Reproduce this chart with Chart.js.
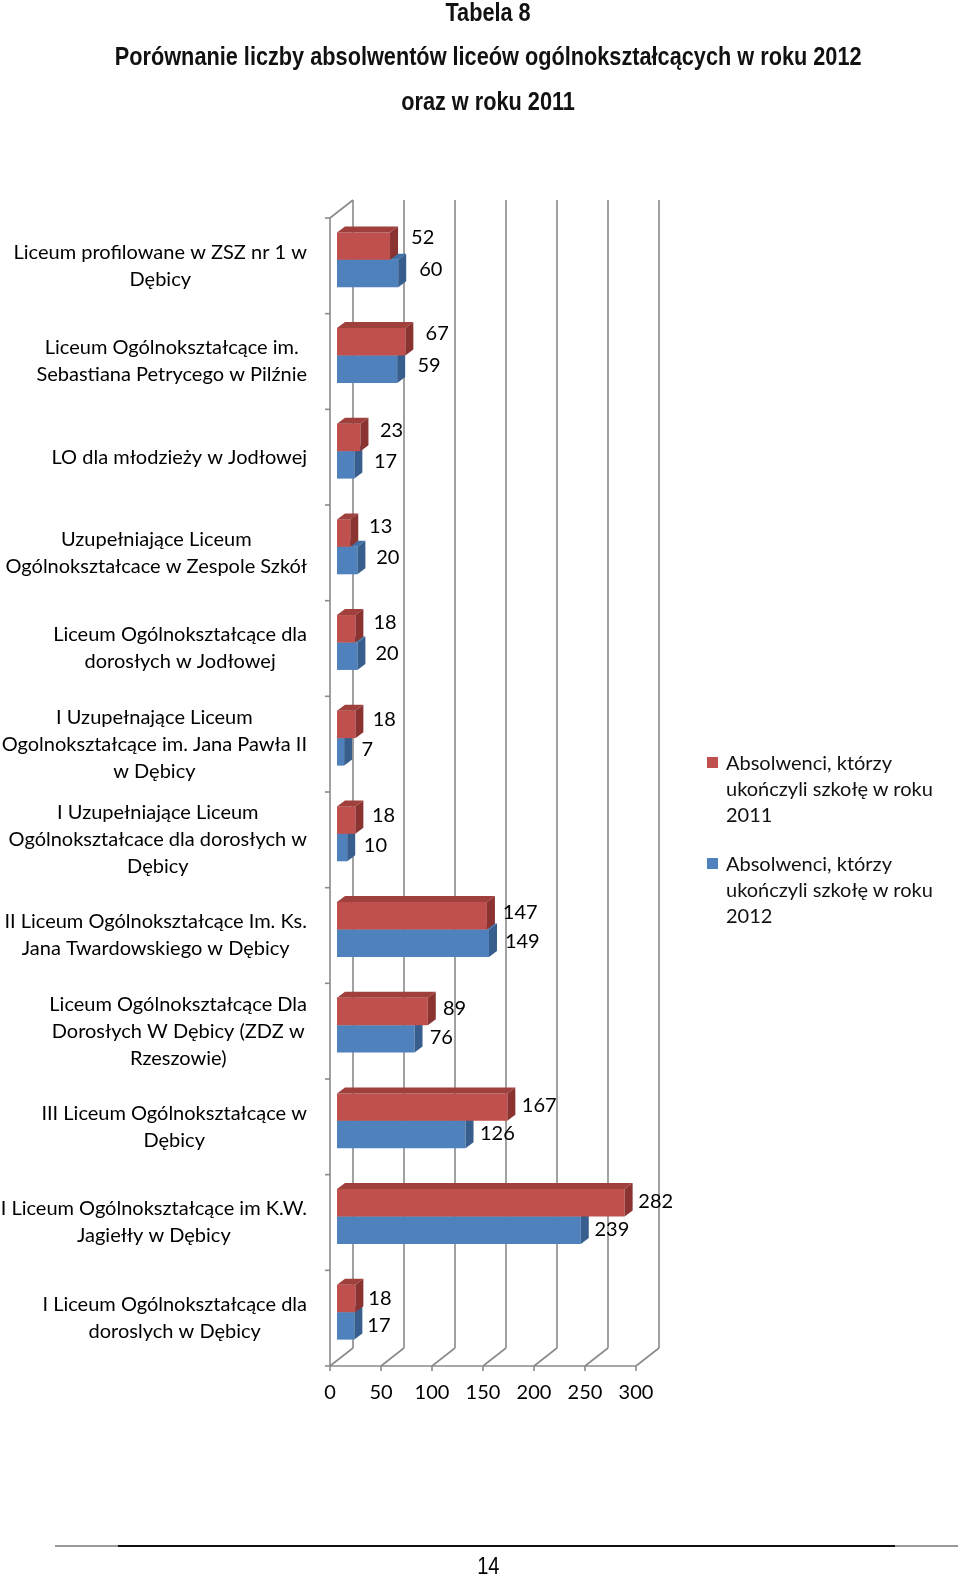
<!DOCTYPE html>
<html lang="pl">
<head>
<meta charset="utf-8">
<title>Tabela 8</title>
<script src="https://cdn.jsdelivr.net/npm/chart.js@4.4.1/dist/chart.umd.min.js"></script>
<style>
    body { margin: 0; background: #fff; }
    .page { position: relative; width: 960px; height: 1577px; overflow: hidden; }
    .page canvas { position: absolute; left: 0; top: 0; }
    .title {
        position: absolute; left: 8px; width: 960px; text-align: center;
        font-family: 'Liberation Sans', Arial, sans-serif;
        font-weight: bold; font-size: 26px; line-height: 30px; color: #111;
    }
    .title span, .pageno span { display: inline-block; transform: scaleX(0.835); transform-origin: center; white-space: nowrap; }
    .legend { position: absolute; left: 707px; font-family: Lato, 'Open Sans', sans-serif; font-size: 20px; line-height: 26px; color: #111; }
    .legend .sw { position: absolute; left: 0; top: 8px; width: 11px; height: 11px; }
    .legend .lt { margin-left: 19px; white-space: nowrap; }
    .rule {
        position: absolute; left: 55px; top: 1545px; width: 903px; height: 2px;
        background: linear-gradient(to right, #999 0, #999 7%, #111 7%, #111 93%, #999 93%, #999 100%);
    }
    .pageno {
        position: absolute; left: 8px; width: 960px; top: 1552px; text-align: center;
        font-family: 'Liberation Sans', Arial, sans-serif; font-size: 24px; line-height: 28px;
    }
</style>
</head>
<body>
<div class="page">
    <canvas id="chart" width="960" height="1577"></canvas>
    <div class="title" style="top:-3px"><span>Tabela 8</span></div>
    <div class="title" style="top:41px"><span>Porównanie liczby absolwentów liceów ogólnokształcących w roku 2012</span></div>
    <div class="title" style="top:86px"><span>oraz w roku 2011</span></div>

    <div class="legend" style="top:749px">
        <span class="sw" style="background:#C0504D"></span>
        <div class="lt">Absolwenci, którzy<br>ukończyli szkołę w roku<br>2011</div>
    </div>
    <div class="legend" style="top:850px">
        <span class="sw" style="background:#4F81BD"></span>
        <div class="lt">Absolwenci, którzy<br>ukończyli szkołę w roku<br>2012</div>
    </div>

    <div class="rule"></div>
    <div class="pageno"><span>14</span></div>
</div>

<script>
// ==================== DATA ====================
const categories = [
    ['Liceum profilowane w ZSZ nr 1 w', 'Dębicy'],
    ['Liceum Ogólnokształcące im.', 'Sebastiana Petrycego w Pilźnie'],
    ['LO dla młodzieży w Jodłowej'],
    ['Uzupełniające Liceum', 'Ogólnokształcace w Zespole Szkół'],
    ['Liceum Ogólnokształcące dla', 'dorosłych w Jodłowej'],
    ['I Uzupełnające Liceum', 'Ogolnokształcące im. Jana Pawła II', 'w Dębicy'],
    ['I Uzupełniające Liceum', 'Ogólnokształcace dla dorosłych w', 'Dębicy'],
    ['II Liceum Ogólnokształcące Im. Ks.', 'Jana Twardowskiego w Dębicy'],
    ['Liceum Ogólnokształcące Dla', 'Dorosłych W Dębicy (ZDZ w', 'Rzeszowie)'],
    ['III Liceum Ogólnokształcące w', 'Dębicy'],
    ['I Liceum Ogólnokształcące im K.W.', 'Jagiełły w Dębicy'],
    ['I Liceum Ogólnokształcące dla', 'doroslych w Dębicy']
];
const graduates2011 = [52, 67, 23, 13, 18, 18, 18, 147, 89, 167, 282, 18];
const graduates2012 = [60, 59, 17, 20, 20, 7, 10, 149, 76, 126, 239, 17];
const xTicks = [0, 50, 100, 150, 200, 250, 300];
const seriesNames = ['Absolwenci, którzy ukończyli szkołę w roku 2011', 'Absolwenci, którzy ukończyli szkołę w roku 2012'];

// ==================== 3D LOOK ====================
const FONT = '20px Lato, "Open Sans", sans-serif';
const FRONT = { dx: -7, dy: 6 };    // front plane (axis, labels) relative to bars
const BACK = { dx: 16, dy: -12 };   // back wall relative to bars
const BAR_DEPTH = { dx: 8, dy: 6 };
const LABEL_RIGHT = 307;

function poly(ctx, pts) {
    ctx.beginPath();
    ctx.moveTo(pts[0][0], pts[0][1]);
    pts.slice(1).forEach(p => ctx.lineTo(p[0], p[1]));
    ctx.closePath();
    ctx.fill();
}

function seg(ctx, x1, y1, x2, y2) {
    ctx.beginPath();
    ctx.moveTo(x1, y1);
    ctx.lineTo(x2, y2);
    ctx.stroke();
}

const wallsPlugin = {
    id: 'walls',
    beforeDatasetsDraw(chart) {
        const { ctx, chartArea: a, scales: { x, y } } = chart;
        const frontY = a.bottom + FRONT.dy;
        const backTop = a.top + BACK.dy;
        const backBottom = a.bottom + BACK.dy;
        const x0 = x.getPixelForValue(0);
        const x1 = x.getPixelForValue(xTicks[xTicks.length - 1]);

        ctx.save();
        ctx.strokeStyle = '#8a8a8a';
        ctx.lineWidth = 1.6;

        // back wall grid + floor diagonals + x ticks
        ctx.fillStyle = '#000';
        ctx.font = FONT;
        ctx.textAlign = 'center';
        ctx.textBaseline = 'middle';
        xTicks.forEach(v => {
            const px = x.getPixelForValue(v);
            seg(ctx, px + BACK.dx, backTop, px + BACK.dx, backBottom);
            seg(ctx, px + FRONT.dx, frontY, px + BACK.dx, backBottom);
            seg(ctx, px + FRONT.dx, frontY, px + FRONT.dx, frontY + 5);
            ctx.fillText(String(v), px + FRONT.dx, frontY + 27);
        });

        // front floor edge and left wall edge
        seg(ctx, x0 + FRONT.dx, frontY, x1 + FRONT.dx, frontY);
        seg(ctx, x0 + FRONT.dx, a.top + FRONT.dy, x0 + FRONT.dx, frontY);
        seg(ctx, x0 + FRONT.dx, a.top + FRONT.dy, x0 + BACK.dx, backTop);

        // category ticks and labels
        const step = y.getPixelForValue(1) - y.getPixelForValue(0);
        for (let i = 0; i <= categories.length; i++) {
            const by = y.getPixelForValue(i) - step / 2 + FRONT.dy;
            seg(ctx, x0 + FRONT.dx - 5, by, x0 + FRONT.dx, by);
        }
        const lineH = 27;
        categories.forEach((lines, i) => {
            const cy = y.getPixelForValue(i) + FRONT.dy;
            const widest = Math.max(...lines.map(l => ctx.measureText(l).width));
            const cx = LABEL_RIGHT - widest / 2;
            lines.forEach((l, j) => {
                ctx.fillText(l, cx, cy + (j - (lines.length - 1) / 2) * lineH);
            });
        });
        ctx.restore();
    },
    afterDatasetDraw(chart, args) {
        const ds = chart.data.datasets[args.index];
        const ctx = chart.ctx;
        ctx.save();
        args.meta.data.forEach(bar => {
            const { x, y, base, height } = bar.getProps(['x', 'y', 'base', 'height'], true);
            const top = y - height / 2, bottom = y + height / 2;
            ctx.fillStyle = ds.topColor;
            poly(ctx, [[base, top], [x, top], [x + BAR_DEPTH.dx, top - BAR_DEPTH.dy], [base + BAR_DEPTH.dx, top - BAR_DEPTH.dy]]);
            ctx.fillStyle = ds.sideColor;
            poly(ctx, [[x, top], [x + BAR_DEPTH.dx, top - BAR_DEPTH.dy], [x + BAR_DEPTH.dx, bottom - BAR_DEPTH.dy], [x, bottom]]);
        });
        ctx.restore();
    },
    afterDatasetsDraw(chart) {
        const ctx = chart.ctx;
        const n = categories.length - 1;
        ctx.save();
        ctx.fillStyle = '#000';
        ctx.font = FONT;
        ctx.textAlign = 'left';
        ctx.textBaseline = 'middle';
        chart.data.datasets.forEach((ds, di) => {
            chart.getDatasetMeta(di).data.forEach((bar, i) => {
                const t = 1 - i / n;
                const offX = 13 + 8 * t;
                const offY = -(di === 0 ? 9 : 4) * t;
                ctx.fillText(String(ds.data[i]), bar.x + offX, bar.y + offY);
            });
        });
        ctx.restore();
    }
};

// ==================== CHART ====================
new Chart(document.getElementById('chart'), {
    type: 'bar',
    data: {
        labels: categories,
        datasets: [{
            label: seriesNames[0],
            data: graduates2011,
            backgroundColor: '#C0504D',
            topColor: '#A0403D',
            sideColor: '#8A3330'
        }, {
            label: seriesNames[1],
            data: graduates2012,
            backgroundColor: '#4F81BD',
            topColor: '#4170A6',
            sideColor: '#375E8C'
        }]
    },
    options: {
        indexAxis: 'y',
        responsive: false,
        animation: false,
        borderWidth: 0,
        categoryPercentage: 0.574,
        barPercentage: 1,
        layout: { padding: { left: 337, right: 317, top: 212, bottom: 217 } },
        plugins: { legend: { display: false }, tooltip: { enabled: false } },
        scales: {
            x: { display: false, min: 0, max: 300 },
            y: { display: false }
        }
    },
    plugins: [wallsPlugin]
});
</script>
</body>
</html>
